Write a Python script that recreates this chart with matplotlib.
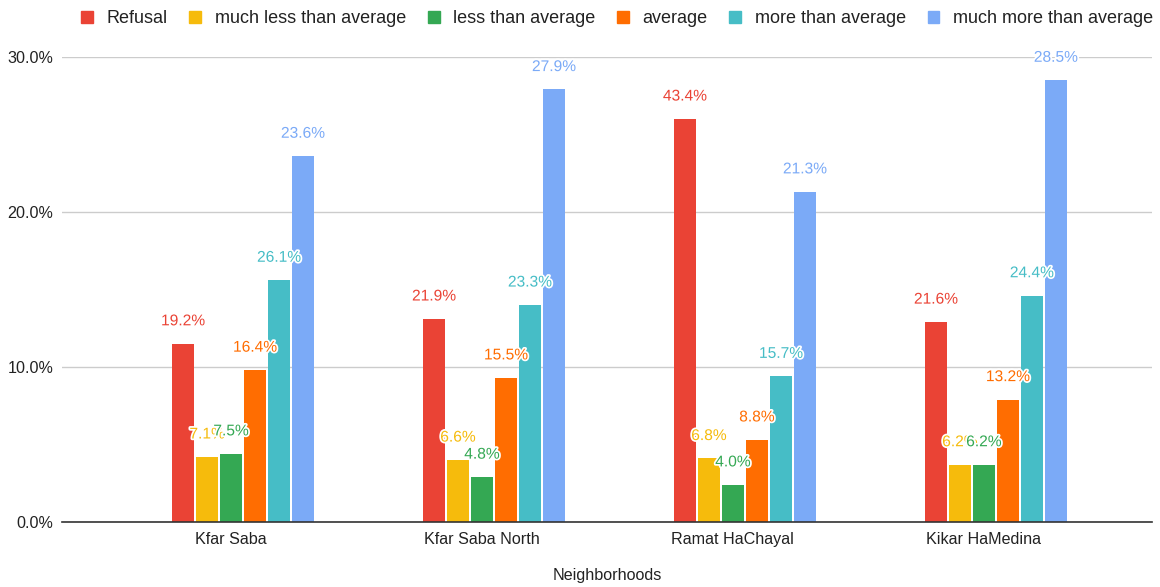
import matplotlib
matplotlib.use("Agg")
import matplotlib.pyplot as plt
import matplotlib.patheffects as pe
from matplotlib.patches import Patch
from matplotlib.ticker import FuncFormatter
import numpy as np

plt.rcParams["font.family"] = ["Liberation Sans", "DejaVu Sans"]

neighborhoods = ["Kfar Saba", "Kfar Saba North", "Ramat HaChayal", "Kikar HaMedina"]
series_names = ["Refusal", "much less than average", "less than average",
                "average", "more than average", "much more than average"]
colors = ["#EA4335", "#F6BB0C", "#34A853", "#FF6D01", "#46BDC6", "#7BAAF7"]

# Plotted bar heights (percent)
refusal = [11.5, 13.1, 26.0, 12.9]
much_less = [4.2, 4.0, 4.1, 3.7]
less = [4.4, 2.9, 2.4, 3.7]
average = [9.8, 9.3, 5.3, 7.9]
more = [15.6, 14.0, 9.4, 14.6]
much_more = [23.6, 27.9, 21.3, 28.5]

# Data labels shown over each bar (percent)
refusal_lbl = [19.2, 21.9, 43.4, 21.6]
much_less_lbl = [7.1, 6.6, 6.8, 6.2]
less_lbl = [7.5, 4.8, 4.0, 6.2]
average_lbl = [16.4, 15.5, 8.8, 13.2]
more_lbl = [26.1, 23.3, 15.7, 24.4]
much_more_lbl = [23.6, 27.9, 21.3, 28.5]

heights = [refusal, much_less, less, average, more, much_more]
labels = [refusal_lbl, much_less_lbl, less_lbl, average_lbl, more_lbl, much_more_lbl]

fig = plt.figure(figsize=(11.6, 5.87), dpi=100)
ax = fig.add_axes([0.0534, 0.1107, 0.9396, 0.7923])

x = np.arange(len(neighborhoods))
slot = 0.0956
bar_w = 0.0876
# seven slots per group; the first one is left empty
for k, (vals, lbls, col) in enumerate(zip(heights, labels, colors)):
    pos = x + (k + 1 - 3) * slot
    ax.bar(pos, vals, width=bar_w, color=col, zorder=3)
    for px, v, l in zip(pos, vals, lbls):
        t = ax.annotate(f"{l:.1f}%", (px, v), xytext=(0, 16.5),
                        textcoords="offset points", ha="center", va="center",
                        fontsize=11.2, color=col, zorder=5, annotation_clip=False)
        t.set_path_effects([pe.withStroke(linewidth=2.5, foreground="white")])

ax.set_xlim(-0.673, 3.67)
ax.set_ylim(0, 30)
ax.set_yticks([0, 10, 20, 30])
ax.yaxis.set_major_formatter(FuncFormatter(lambda v, p: f"{v:.1f}%"))
ax.set_xticks(x)
ax.set_xticklabels(neighborhoods)
ax.tick_params(axis="both", length=0, labelsize=11.6, colors="#222222")
ax.tick_params(axis="x", pad=7)
ax.tick_params(axis="y", pad=6)
ax.grid(axis="y", color="#CCCCCC", linewidth=1, zorder=0)
for s in ["top", "right", "left"]:
    ax.spines[s].set_visible(False)
ax.spines["bottom"].set_color("#333333")
ax.spines["bottom"].set_linewidth(1.2)
ax.spines["bottom"].set_zorder(4)
ax.set_xlabel("Neighborhoods", fontsize=11.6, color="#222222", labelpad=15)

handles = [Patch(facecolor=c, edgecolor=c, label=n) for c, n in zip(colors, series_names)]
fig.legend(handles=handles, loc="upper center", bbox_to_anchor=(0.532, 1.01),
           ncol=6, frameon=False, fontsize=13, handlelength=0.66, handleheight=0.66,
           columnspacing=1.2, handletextpad=0.75, labelcolor="#222222")

fig.savefig("out.png", dpi=100, facecolor="white")
